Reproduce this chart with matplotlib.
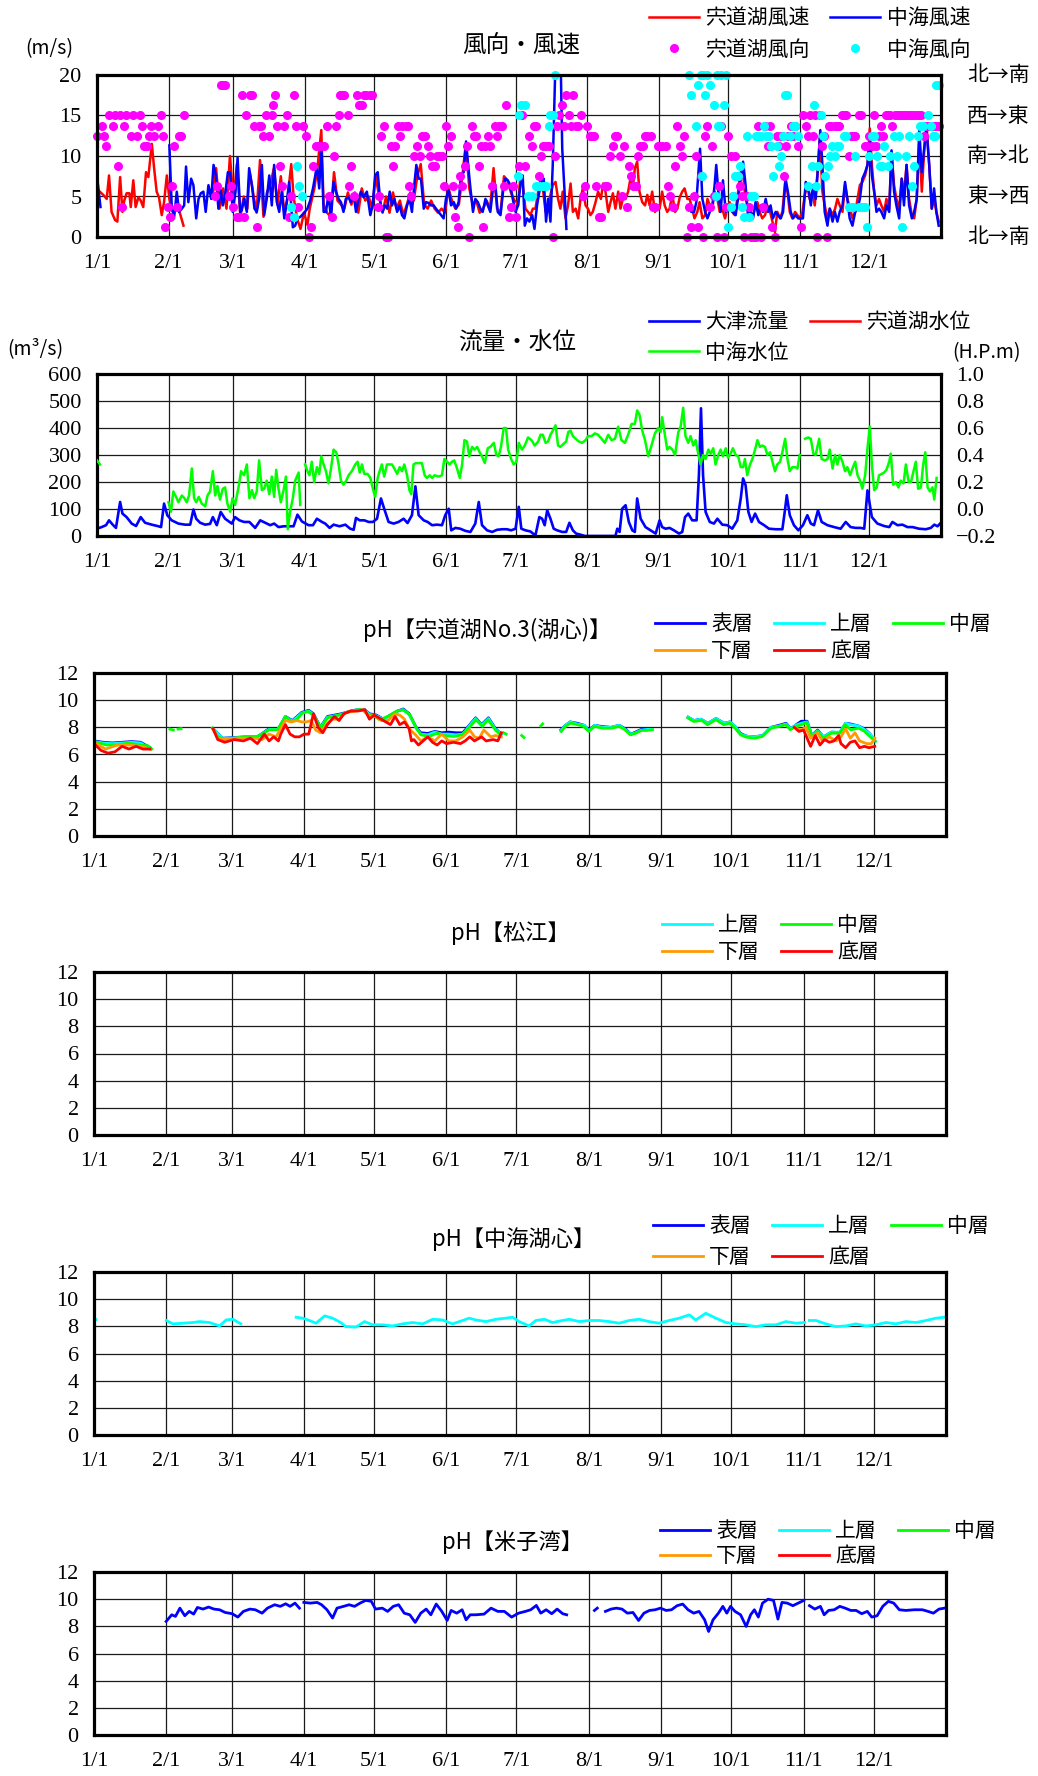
import numpy as np
import matplotlib
matplotlib.use('Agg')
import matplotlib.pyplot as plt

plt.rcParams['font.family'] = ['Noto Sans CJK JP', 'DejaVu Sans']

nan = np.nan
W, H = 1038, 1776

month_days = [0, 31, 59, 90, 120, 151, 181, 212, 243, 273, 304, 334]
month_labels = ['1/1', '2/1', '3/1', '4/1', '5/1', '6/1', '7/1', '8/1', '9/1', '10/1', '11/1', '12/1']

# ---- 風向・風速 (day of year, m/s) ----
lake_wind = [
    (0, 6.0), (1.2, 5.6), (2.7, 5.2), (4.2, 4.7), (5.2, 7.6), (6.3, 3.1), (7.8, 2.1), (8.8, 1.9), (10, 7.4),
    (11, 3.1), (11.8, 4.5), (12.8, 5.4), (14, 5.4), (14.6, 3.7), (15.7, 7.0), (16.7, 3.7), (17.9, 4.9),
    (18.9, 4.5), (20, 3.7), (21.2, 8.0), (22.2, 7.4), (23.7, 11.5), (24.7, 8.5), (25.8, 5.6), (26.8, 4.9),
    (28, 2.7), (29, 4.3), (30.2, 7.6), (31.3, 4.7), (32.3, 3.3), (33.3, 3.1), (34.5, 3.7), (35.9, 2.9),
    (37.4, 1.4), (44, nan),
    (50, 5.0), (51.5, 8.5), (53, 3.5), (54.5, 6.0), (56, 3.5), (57.5, 10.0), (59, 4.5), (60.5, 9.0), (62, 2.5),
    (63.5, 5.0), (65, 3.5), (66, 8.0), (67.5, 5.5), (69, 3.0), (70.5, 9.5), (72, 2.5), (73.5, 5.5), (75, 6.5),
    (76.5, 8.5), (78, 4.0), (79.5, 7.5), (81, 3.0), (82.5, 5.0), (84, 9.0), (85, 5.0), (86.5, 2.3), (88, 1.0),
    (89.5, 3.0), (91, 1.5), (92, 3.5), (94, 6.0), (95.5, 9.0), (97, 13.2), (98, 4.0), (99.5, 3.0), (101, 2.5),
    (102.5, 8.0), (104, 4.5), (105.5, 4.0), (107, 3.5), (108.5, 5.5), (110, 4.0), (111.5, 5.5), (113, 3.0),
    (114.5, 6.0), (116, 4.5), (117.5, 5.0), (119, 3.5), (120.5, 7.5), (122, 5.0), (123.5, 3.0), (125, 5.0),
    (126.5, 3.0), (128, 5.5), (129.5, 3.5), (131, 4.5), (132.5, 2.7), (134, 4.0), (135.5, 5.5), (137, 4.5),
    (138.5, 7.5), (140, 9.0), (141.5, 4.0), (143, 3.5), (144.5, 4.5), (146, 3.5), (147.5, 3.0), (149, 3.5),
    (150.5, 3.0), (152, 6.0), (153.5, 4.5), (155, 3.5), (156.5, 4.0), (158, 7.5), (159.5, 11.5), (161, 6.0),
    (162.5, 4.0), (164, 4.5), (165.5, 3.0), (167, 3.5), (168.5, 4.5), (170, 3.5), (171.5, 8.5), (173, 3.5),
    (174.5, 3.0), (176, 7.5), (177.5, 7.0), (179, 5.5), (180.5, 4.5),
    (181.5, 4.3), (182.1, 3.9), (183.1, 7.6), (184.1, 6.4), (185.3, 3.5), (186.4, 3.1), (187.4, 2.7), (188.5, 3.5),
    (189.6, 3.5), (190.8, 5.6), (191.8, 7.2), (192.8, 6.0), (194, 3.1), (195, 3.9), (196.1, 5.2), (197.1, 6.4),
    (198.3, 6.8), (199.4, 4.7), (200.4, 3.5), (201.4, 5.6), (202.6, 2.3), (203.7, 3.9), (204.8, 6.6), (205.8, 3.1),
    (207, 3.5), (208.1, 2.3), (209.1, 4.7), (210.1, 6.0), (211.3, 3.9), (212.3, 3.5), (213.4, 2.7), (214.4, 3.1),
    (215.6, 4.3), (216.7, 5.6), (217.9, 4.7), (218.9, 6.6), (219.9, 5.6), (221.1, 3.1), (222.1, 4.3), (223.1, 5.4),
    (224.2, 3.5), (225.4, 5.6), (226.4, 3.5), (227.4, 4.7), (228.6, 4.7), (229.7, 5.6), (230.7, 7.2), (231.7, 6.0),
    (232.6, 8.5), (233.6, 9.3), (234.6, 5.6), (235.8, 4.3), (237, 3.9), (238, 5.2), (239, 3.9), (240.1, 5.6),
    (241.3, 3.1), (242.3, 3.9), (243.3, 3.5), (244.4, 5.6), (245.5, 3.9), (246.6, 3.1), (247.6, 3.5), (248.8, 5.2),
    (250, 3.1), (251, 3.5), (252, 4.9), (253.1, 5.6), (254.1, 6.0), (255.3, 4.7), (256.3, 4.7), (257.4, 3.5),
    (258.4, 2.3), (259.6, 3.1), (260.6, 4.3), (261.8, 2.3), (263, 2.7), (264, 4.7), (265, 3.9), (266.1, 3.5),
    (267.1, 5.6), (268.3, 4.7), (269.3, 3.1), (270.4, 3.5), (271.6, 2.3), (272.6, 3.5), (273.6, 4.3), (274.7, 3.1),
    (275.8, 2.7), (276.9, 4.7), (277.9, 7.2), (279.1, 8.9), (280.1, 5.6), (281.2, 3.9), (282.3, 3.1), (283.4, 2.3),
    (284.4, 3.5), (285.6, 4.3), (286.6, 3.1), (287.7, 2.3), (288.9, 2.7), (289.9, 3.9), (291.1, 3.1), (292.1, 1.9),
    (293.2, 0.6), (294.2, 3.1), (295.4, 2.3), (296.4, 3.1), (297.6, 6.8), (298.6, 5.6), (299.6, 3.1), (300.7, 2.3),
    (301.9, 3.1), (302.9, 2.7), (303.9, 2.3), (305.1, 3.1), (306.1, 5.2), (307.2, 6.4), (308.2, 4.7), (309.4, 5.6),
    (310.4, 3.9), (311.5, 7.6), (312.6, 12.2), (313.7, 5.6), (314.7, 3.9), (315.9, 2.3), (316.9, 3.5), (318.1, 2.7),
    (319.2, 3.5), (320.2, 4.7), (321.2, 3.9), (322.4, 3.1), (323.5, 6.4), (324.5, 4.7), (325.7, 3.5), (326.7, 2.3),
    (327.9, 3.1), (328.9, 4.7), (329.9, 6.4), (331, 6.8), (332.2, 7.6), (333.2, 8.9), (334.2, 13.4), (335.1, 8.9),
    (336.1, 5.6), (337.1, 3.9), (338.2, 4.7), (339.2, 3.9), (340.4, 3.1), (341.4, 4.7), (342.6, 3.5), (343.6, 10.5),
    (344.7, 6.4), (345.7, 4.7), (346.9, 3.5), (348, 7.2), (349, 5.2), (350.1, 8.9), (351.2, 4.7), (352.4, 2.7),
    (353.4, 2.3), (354.5, 4.7), (355.6, 11.8), (356.7, 5.6), (357.7, 10.5), (358.7, 14.0), (359.9, 8.9), (361, 3.5),
    (362, 4.7), (363, 3.1), (364, 1.9)]

sea_wind = [
    (0, 7.6), (1.5, 3.7), (10, nan),
    (31.3, 11.3), (32.3, 3.9), (33.3, 2.3), (34.5, 5.6), (35.5, 3.1), (36.7, 3.5), (37.7, 3.9), (38.5, 8.7),
    (39.5, 4.3), (40.7, 7.2), (41.7, 6.4), (42.9, 2.3), (43.9, 4.7), (44.9, 5.4), (46, 5.6), (47, 3.1), (48.2, 6.4),
    (49.4, 4.7), (50.4, 8.9), (51.4, 7.6), (52.5, 3.5), (53.5, 5.8), (54.4, 3.9), (55.4, 5.2), (56.6, 8.0),
    (57.6, 8.0), (58.7, 3.1), (59.9, 5.6), (60.8, 9.8), (61.9, 3.1), (62.6, 3.3), (63.6, 4.7), (64.8, 3.1),
    (65.8, 8.5), (67, 6.4), (68.1, 3.5), (69.1, 3.1), (70.1, 4.7), (71.3, 8.9), (72.3, 2.7), (73.4, 4.7), (74.5, 7.6),
    (75.6, 3.9), (76.6, 8.9), (77.8, 4.3), (78.8, 3.1), (79.9, 5.6), (81, 2.3), (82.1, 4.3), (83.1, 6.8), (84, 3.9),
    (84.7, 1.2), (85.7, 1.4), (86.7, 2.3), (88, 2.5), (89.9, 3.1), (91, 3.5), (92.2, 4.5), (93.4, 6.0), (94.4, 7.6),
    (95.1, 8.9), (96.1, 6.0), (97, 11.3), (98, 3.1), (99, 3.1), (100.1, 5.2), (101.2, 2.3), (102.3, 6.8),
    (103.3, 5.6), (104.5, 4.7), (105.5, 4.3), (106.6, 3.1), (107.6, 4.7), (108.8, 4.9), (109.8, 4.3), (111, 5.2),
    (112, 3.1), (113.1, 4.7), (114.1, 5.6), (115.3, 4.9), (116.7, 5.6), (118.2, 2.7), (119.2, 3.9), (120.3, 7.6),
    (121.4, 8.0), (122.5, 4.3), (123.5, 3.1), (124.5, 3.9), (125.5, 3.5), (126.6, 5.6), (127.6, 3.9), (128.6, 4.7),
    (129.8, 3.1), (130.9, 3.9), (131.9, 2.7), (132.9, 2.3), (134.1, 3.9), (135.2, 4.7), (136.2, 3.1), (137.2, 6.4),
    (138.1, 8.9), (139.1, 7.2), (140.1, 7.2), (141.3, 3.5), (142.3, 4.3), (143.4, 4.2), (144.4, 3.9), (145.6, 3.9),
    (146.6, 3.5), (147.7, 3.1), (148.8, 2.7), (149.9, 2.3), (150.9, 4.7), (152.1, 5.8), (153.1, 3.9), (154.3, 4.3),
    (155.3, 3.5), (156.4, 4.3), (157.4, 7.6), (158.6, 8.0), (159.6, 11.8), (160.5, 8.9), (161.5, 6.0), (162.6, 3.1),
    (163.6, 4.7), (164.7, 4.3), (165.8, 3.5), (166.8, 3.1), (168, 4.7), (169, 3.9), (170.1, 3.1), (171.1, 5.6),
    (172.3, 6.4), (173.3, 3.1), (174.5, 2.7), (175.6, 5.6), (176.6, 7.2), (177.6, 7.0), (178.8, 6.4), (179.8, 4.7),
    (181, 3.1), (182.1, 3.9), (183.1, 6.4), (184.1, 7.6), (185, 1.4), (186, 2.3), (187, 1.9), (188.2, 2.7),
    (189.2, 1.0), (190.3, 3.9), (191.3, 5.6), (192.5, 6.8), (193.2, 7.2), (194.2, 1.9), (195.1, 4.7), (196.1, 1.9),
    (197.1, 8.9), (198.3, 22.0), (200.5, 22.0), (201.2, 10.9), (202.2, 5.6), (203, 1.0), (230, nan),
    (256, 3.9), (257, 3.1), (258.2, 3.1), (259.2, 4.3), (260, 7.6), (260.8, 10.9), (261.8, 4.7), (263, 3.1),
    (264, 2.3), (265, 3.1), (266.1, 3.9), (267.1, 6.4), (267.8, 8.9), (268.7, 5.6), (269.7, 3.1), (270.7, 7.0),
    (271.9, 3.1), (272.9, 3.5), (274, 3.5), (275, 3.1), (276.2, 2.7), (277.2, 4.7), (278.4, 7.2), (279.4, 9.3),
    (280.5, 6.4), (281.5, 2.7), (282.7, 3.1), (283.7, 2.3), (284.8, 4.3), (286, 2.7), (287, 3.9), (288, 3.1),
    (289.2, 4.7), (290.2, 3.1), (291.3, 3.9), (292.3, 2.3), (293.5, 3.1), (294.5, 2.7), (295.7, 2.3), (296.7, 3.1),
    (297.8, 7.2), (299, 5.2), (300, 3.1), (301, 2.3), (302.2, 2.7), (303.2, 2.3), (304.3, 2.3), (305.3, 2.3),
    (306.5, 6.8), (307.5, 6.4), (308.7, 3.9), (309.7, 6.4), (310.8, 4.7), (311.8, 8.5), (312.8, 13.2), (313.7, 8.9),
    (314.7, 3.1), (315.9, 1.4), (316.9, 3.5), (318.1, 1.9), (319.1, 3.1), (320.2, 1.9), (321.2, 3.1), (322.4, 3.9),
    (323.5, 6.8), (324.5, 4.7), (325.5, 2.3), (326.7, 1.4), (327.9, 3.1), (328.9, 3.5), (329.9, 4.7), (331, 7.2),
    (332.2, 8.0), (333.2, 8.9), (334.2, 11.8), (335.1, 7.6), (336.1, 5.6), (337.1, 3.1), (338.2, 3.5), (339.2, 3.1),
    (340.4, 2.3), (341.4, 3.9), (342.6, 3.1), (343.6, 10.7), (344.7, 5.6), (345.7, 3.9), (346.9, 2.3), (348, 7.2),
    (349, 3.9), (350.1, 8.9), (351.2, 3.9), (352.4, 2.3), (353.4, 3.1), (354.5, 4.7), (355.6, 13.2), (356.7, 8.0),
    (357.7, 10.9), (358.7, 13.4), (359.9, 8.9), (361, 3.5), (362, 6.0), (363, 3.1), (364, 1.4)]

# wind direction, 16-point compass index (0 = 北→南 ... 16 = 北→南)
lake_dir = [
    (0, 10), (2, 11), (3, 10), (4, 9), (5, 12), (7, 11), (8, 12), (9, 7), (10, 12), (11, 3), (11.5, 11), (12.5, 12),
    (14.5, 10), (15.5, 12), (17.5, 10), (18.5, 12), (19.5, 11), (20.5, 9), (21.5, 9), (22.5, 10), (23.5, 11),
    (24.5, 10), (26.5, 11), (27.5, 12), (28.5, 10), (29.5, 1), (30.5, 3), (31.5, 2), (32.5, 5), (33.5, 9), (34.5, 3),
    (35.5, 10), (36.5, 10), (37.5, 12), (51, 4), (52, 5), (53.5, 15), (54.5, 15), (55.5, 15), (57, 4), (58, 5),
    (59, 3), (60.5, 2), (61.5, 2), (62.5, 14), (63.5, 2), (64.5, 12), (66, 14), (67, 14), (68, 11), (69, 1), (70, 11),
    (71, 11), (72, 10), (73, 12), (74.5, 10), (75.5, 12), (76, 13), (77, 14), (78, 11), (79, 7), (80, 5), (81, 11),
    (82, 12), (83, 2), (84, 4), (85, 14), (86, 11), (87, 3), (89, 11), (90.5, 10), (91.5, 0), (92.5, 1), (93.5, 7),
    (94.5, 9), (95.5, 9), (96.5, 9), (98, 9), (99.5, 11), (100.5, 4), (101.5, 2), (102.5, 8), (103.5, 11),
    (104.5, 12), (105, 14), (106, 14), (107, 14), (108.5, 12), (109, 5), (110, 7), (111, 4), (112.5, 14), (113.5, 13),
    (114.5, 13), (115.5, 14), (116.5, 14), (118, 14), (119, 14), (121.5, 3), (122, 4), (123, 10), (124, 11), (125, 0),
    (126, 0), (127, 9), (128, 7), (129, 9), (130, 11), (131, 10), (132, 11), (133.5, 11), (134.5, 11), (135, 5),
    (136, 4), (137, 8), (138.5, 9), (139.5, 8), (140.5, 10), (142, 10), (143, 9), (144, 8), (145, 7), (146, 7),
    (147, 8), (148, 8), (149, 8), (150, 5), (151, 11), (152, 9), (153, 10), (154, 5), (155, 2), (156, 1), (157, 6),
    (158, 5), (159, 7), (160, 9), (161, 0), (162, 11), (163, 10), (164, 10), (165, 7), (166, 9), (167, 1), (168, 9),
    (169, 10), (170, 9), (171, 5), (172, 11), (173, 10), (174, 11), (175, 11), (176, 5), (177, 13), (178, 2),
    (179, 3), (180, 5), (181, 2), (182.5, 7), (184, 12), (185, 7), (187, 10), (188, 9), (189, 11), (190, 11),
    (191, 6), (192, 8), (193, 9), (194, 9), (195.5, 9), (197, 0), (198, 8), (199, 11), (200, 12), (201, 13),
    (202, 11), (203, 14), (204, 12), (205, 11), (206, 14), (207, 11), (208, 11), (209.5, 12), (210, 4), (211, 5),
    (212, 11), (213, 10), (214, 10), (215, 10), (216, 5), (217, 2), (218, 2), (219.5, 5), (220.5, 5), (222, 8),
    (223, 9), (224, 10), (225, 10), (226, 8), (227, 4), (228, 9), (229, 3), (230, 7), (231, 6), (232, 5), (233, 5),
    (234, 8), (235, 9), (236, 9), (237, 10), (238, 10), (239.5, 10), (240.5, 3), (241.5, 3), (242.5, 9), (243.5, 9),
    (244.5, 9), (246, 9), (247, 5), (248, 4), (249, 3), (250, 7), (251, 11), (252, 9), (253, 8), (254, 10), (255, 0),
    (256, 3), (257, 1), (258, 4), (259, 8), (260, 1), (261, 6), (262, 0), (263, 10), (264, 11), (265, 3), (266, 9),
    (267, 4), (268, 0), (269, 5), (270, 11), (271, 0), (272, 3), (273, 10), (274, 8), (275, 4), (276, 8), (277, 6),
    (278, 5), (279, 4), (280, 0), (281, 4), (282, 3), (283, 0), (284, 0), (285, 0), (286, 11), (287, 0), (288, 3),
    (289, 11), (290, 9), (291, 11), (292, 1), (293, 0), (294, 10), (295, 9), (296, 10), (297, 6), (298, 9),
    (299, 10), (300, 11), (301, 10), (302, 11), (303, 9), (304.5, 1), (305.5, 12), (306.5, 11), (307.5, 10),
    (308.5, 12), (309.5, 10), (310.5, 12), (311.5, 0), (312.5, 12), (313.5, 9), (314.5, 10), (315.5, 0),
    (316.5, 11), (317.5, 11), (319, 11), (320, 11), (321, 11), (322, 12), (323, 12), (324, 12), (325, 8), (326, 10),
    (327, 10), (328, 10), (329.5, 12), (330.5, 12), (332, 9), (333, 9), (334, 10), (335, 9), (336, 12), (337, 9),
    (338, 10), (339, 11), (340, 10), (341, 12), (342, 12), (343, 12), (344, 11), (345, 12), (346, 12), (347, 12),
    (348, 12), (349, 12), (350, 12), (351, 12), (352, 12), (353, 12), (354, 12), (355.5, 12), (356.5, 12),
    (357.5, 10), (358.5, 11), (360, 11), (361, 11), (362, 11), (363, 11), (364, 11)]

sea_dir = [
    (84, 3), (85, 2), (86.5, 7), (87.5, 5), (88.5, 4), (182, 6), (182.5, 12), (183.5, 13), (185, 13), (186.5, 4),
    (188, 4), (190, 5), (191, 5), (193, 5), (194, 5), (195.5, 11), (196, 12), (197, 12), (198, 16), (256, 16),
    (257, 14), (259, 11), (260, 15), (261, 16), (261.5, 6), (262, 16), (263, 14), (264, 16), (265, 15), (267, 13),
    (267.5, 4), (268, 16), (268.5, 11), (269.5, 11), (270, 16), (271, 13), (272, 16), (273, 1), (274, 3), (275, 4),
    (276, 6), (277, 6), (278, 7), (279, 3), (280, 2), (281, 10), (282, 2), (283, 4), (284, 4), (285, 10), (286, 10),
    (287, 10), (288.5, 11), (289.5, 10), (290.5, 10), (291.5, 9), (292.5, 6), (294, 9), (295, 7), (296, 8),
    (296.5, 10), (297.5, 14), (298.5, 14), (299.5, 10), (301, 11), (302, 11), (303, 10), (307.5, 5), (309, 7),
    (310, 13), (311, 5), (312, 7), (313, 12), (314, 10), (315, 6), (316, 7), (317, 8), (318, 9), (319, 8), (320, 9),
    (321, 9), (323, 10), (324, 10), (325, 3), (326, 3), (327, 3), (328, 8), (329.5, 3), (331, 3), (332, 3), (333, 1),
    (334, 8), (335, 10), (336, 10), (337.5, 8), (338.5, 7), (339.5, 7), (340.5, 9), (342, 7), (343, 8),
    (344.5, 10), (346, 8), (347, 10), (348, 1), (350, 8), (351, 10), (352.5, 5), (353.5, 7), (355, 10), (356, 11),
    (357, 11), (359.5, 12), (360.5, 11), (361.5, 10), (362.5, 10), (363, 15), (364, 15)]

dir_labels = ['北→南', '東→西', '南→北', '西→東', '北→南']

# ---- 流量・水位 ----
otsu_flow = [
    (0, 27), (2, 33), (3.9, 40), (5.2, 58), (6.8, 42), (8.2, 30), (10, 126), (11, 83), (12.8, 70), (15, 46),
    (16.9, 37), (18.9, 70), (20.8, 49), (23.7, 42), (26.6, 36), (27.7, 33), (29, 120), (30.4, 77), (32.3, 58),
    (35.2, 46), (38.1, 42), (40.3, 42), (41.7, 98), (42.9, 64), (44.6, 49), (46.8, 42), (48.9, 45), (50.1, 70),
    (51.8, 40), (53.5, 89), (55.4, 64), (57.3, 52), (58.3, 46), (59.7, 70), (61.6, 58), (63.6, 52), (65.9, 52),
    (68.4, 30), (70.6, 58), (72.7, 49), (74.9, 40), (76.6, 46), (78.5, 33), (80.7, 36), (83.3, 36), (85, 36),
    (86.7, 79), (88.6, 54), (91.5, 40), (93.4, 40), (95.1, 64), (97.3, 52), (98.7, 46), (100.6, 30), (102.3, 42),
    (104.9, 36), (107.4, 42), (109.5, 27), (111, 23), (112, 67), (113.6, 58), (115.6, 58), (117.5, 52), (119.3, 52),
    (121.1, 64), (122.8, 139), (124.2, 101), (126.1, 52), (128.3, 46), (130.4, 52), (132.6, 64), (134.3, 48),
    (136.2, 77), (137.7, 184), (139.1, 77), (141.3, 58), (143, 52), (144.9, 40), (147, 42), (149.2, 40), (150.6, 77),
    (152.1, 101), (153.2, 21), (155, 30), (157.1, 27), (159.3, 19), (161.5, 15), (163.6, 46), (165.1, 126),
    (166.5, 40), (168.7, 21), (170.9, 15), (173, 23), (175.2, 25), (177.3, 25), (179.1, 21), (181, 27),
    (182.4, 108), (183.5, 27), (185.3, 21), (187.4, 17), (189.6, 2), (191.3, 70), (192.5, 64), (193.6, 40),
    (194.7, 95), (196.1, 64), (197.5, 27), (199, 21), (201.2, 15), (202.9, 15), (204.3, 49), (205.8, 21), (207.2, 9),
    (209.1, 5), (211, 0), (217, 0), (224.2, 0), (225, 27), (226, 15), (227.1, 101), (228.6, 114), (230, 52),
    (231.5, 21), (232.6, 15), (233.6, 139), (235.1, 64), (237.2, 33), (239.4, 21), (241.6, 9), (243.3, 58),
    (244.4, 33), (245.9, 27), (247.6, 30), (249.5, 21), (251.7, 9), (253.1, 15), (254.3, 70), (255.7, 83),
    (257.4, 58), (259.3, 58), (260.3, 225), (261.2, 473), (262.1, 225), (263.2, 89), (265, 52), (266.8, 46),
    (268.3, 64), (270.4, 42), (272.6, 40), (274.7, 27), (276.9, 58), (278.4, 139), (279.4, 213), (280.5, 188),
    (281.7, 89), (283.1, 52), (284.6, 83), (286.3, 52), (288.5, 40), (290.6, 27), (293.5, 25), (296.4, 25),
    (297.6, 101), (298.3, 151), (299.6, 77), (301.4, 40), (303.3, 21), (305.3, 40), (307.2, 77), (308.7, 46),
    (310.1, 40), (311.8, 95), (313.4, 52), (315.9, 40), (318.8, 33), (321.6, 27), (323.8, 52), (325.9, 33),
    (328.1, 30), (330.3, 30), (331.8, 27), (333.2, 169), (335.1, 70), (337.5, 46), (340.4, 37), (342.6, 33),
    (344, 52), (346.2, 40), (348.3, 42), (350.5, 33), (352.7, 33), (355.5, 27), (358.4, 25), (360.6, 30),
    (362.1, 42), (363.5, 36), (364.5, 45)]

nakaumi_level = [
    (0, 0.36), (1.3, 0.33), (10, nan),
    (30.9, 0.05), (32, -0.02), (33, 0.13), (34.2, 0.09), (35.2, 0.05), (36.7, 0.10), (37.8, 0.08), (38.8, 0.05),
    (39.8, 0.10), (41, 0.30), (42, 0.08), (42.9, 0.05), (44, 0.09), (45.3, 0.04), (46.8, 0.02), (47.8, 0.10),
    (48.9, 0.13), (50.1, 0.28), (51.1, 0.10), (52.1, 0.17), (53.2, 0.07), (54.4, 0.15), (55.4, 0.16), (56.4, 0.04),
    (57.6, -0.02), (58.6, 0.08), (59.7, 0.03), (61.2, 0.16), (62.3, 0.28), (63.6, 0.25), (64.8, 0.33), (65.9, 0.08),
    (67, 0.14), (68, 0.08), (69.1, 0.13), (70.1, 0.36), (71.3, 0.14), (72.3, 0.15), (73.4, 0.21), (74.5, 0.11),
    (75.6, 0.24), (76.6, 0.09), (77.5, 0.29), (78.5, 0.15), (79.5, 0.05), (80.7, 0.14), (81.7, 0.24), (82.5, -0.15),
    (83.5, -0.02), (84.7, 0.08), (85.7, 0.21), (87.2, 0.27), (87.9, 0.03), (88.9, nan),
    (90, 0.33), (91, 0.28), (91.9, 0.25), (92.9, 0.35), (93.9, 0.20), (95.1, 0.31), (96.1, 0.26), (97, 0.39),
    (98, 0.33), (99, 0.28), (100.1, 0.19), (101.2, 0.30), (102.3, 0.44), (103.5, 0.42), (104.5, 0.33), (105.5, 0.21),
    (106.6, 0.18), (107.8, 0.21), (108.8, 0.25), (110.2, 0.28), (111.7, 0.33), (112.7, 0.35), (113.6, 0.27),
    (114.6, 0.33), (115.6, 0.26), (117, 0.26), (118.2, 0.23), (119.3, 0.15), (120.3, 0.09), (121.4, 0.23),
    (122.2, 0.28), (123.2, 0.33), (124.2, 0.24), (125.4, 0.33), (126.6, 0.33), (127.6, 0.33), (128.6, 0.30),
    (129.8, 0.26), (130.9, 0.31), (131.9, 0.28), (132.9, 0.33), (134.1, 0.25), (135.1, 0.14), (135.9, 0.11),
    (136.9, 0.33), (137.9, 0.34), (139.1, 0.34), (140.5, 0.34), (141.7, 0.25), (142.7, 0.23), (143.9, 0.25),
    (144.9, 0.23), (146, 0.25), (147.8, 0.24), (149.2, 0.25), (150.2, 0.37), (151.4, 0.35), (152.5, 0.33),
    (153.5, 0.35), (154.5, 0.36), (155.7, 0.30), (156.9, 0.23), (157.9, 0.33), (158.9, 0.51), (160, 0.50),
    (161, 0.39), (162.2, 0.46), (163.2, 0.44), (164.4, 0.46), (165.5, 0.42), (166.5, 0.39), (167.7, 0.34),
    (169, 0.45), (170.1, 0.46), (171.6, 0.49), (172.7, 0.40), (173.7, 0.39), (174.7, 0.46), (175.9, 0.60),
    (176.9, 0.60), (177.8, 0.44), (179.1, 0.37), (180.2, 0.33), (181.4, 0.35), (182.4, 0.49), (183.8, 0.44),
    (185, 0.47), (186.4, 0.53), (187.9, 0.51), (189.3, 0.47), (190.8, 0.50), (191.8, 0.55), (192.8, 0.55),
    (194, 0.49), (195.1, 0.50), (196.1, 0.55), (197.1, 0.58), (198.3, 0.62), (199.4, 0.47), (200.4, 0.46),
    (201.6, 0.48), (202.9, 0.50), (203.8, 0.57), (204.8, 0.58), (205.8, 0.54), (207, 0.52), (208.4, 0.50),
    (209.8, 0.49), (211.3, 0.51), (212.4, 0.54), (213.9, 0.54), (215.3, 0.56), (216.7, 0.55), (218.2, 0.52),
    (219.6, 0.49), (221.1, 0.55), (222.5, 0.51), (224, 0.52), (225.4, 0.61), (226.8, 0.51), (228.3, 0.49),
    (229.7, 0.55), (231.2, 0.63), (232.6, 0.63), (233.6, 0.73), (234.6, 0.70), (235.8, 0.58), (237, 0.51),
    (238.4, 0.39), (239.8, 0.47), (241.3, 0.56), (242.7, 0.60), (243.7, 0.57), (244.4, 0.68), (245.6, 0.55),
    (246.6, 0.44), (247.6, 0.46), (248.8, 0.44), (250, 0.40), (251.4, 0.57), (252.4, 0.61), (253.5, 0.75),
    (254.5, 0.54), (255.7, 0.49), (256.7, 0.54), (257.9, 0.47), (258.9, 0.51), (260, 0.41), (261, 0.33),
    (262.1, 0.40), (263.2, 0.37), (264.4, 0.44), (265.4, 0.41), (266.5, 0.45), (267.5, 0.33), (268.7, 0.40),
    (269.7, 0.44), (270.7, 0.39), (271.9, 0.45), (272.9, 0.38), (274, 0.41), (275, 0.45), (276.2, 0.40),
    (277.3, 0.39), (278.4, 0.31), (279.4, 0.31), (280.2, 0.37), (281.2, 0.25), (282.4, 0.33), (283.4, 0.37),
    (284.6, 0.44), (285.6, 0.51), (286.7, 0.46), (287.7, 0.47), (288.9, 0.46), (289.9, 0.40), (291.1, 0.42),
    (292.1, 0.35), (293.2, 0.28), (294.2, 0.33), (295.4, 0.35), (296.4, 0.42), (297.6, 0.52), (298.6, 0.37),
    (299.6, 0.28), (300.7, 0.31), (301.9, 0.31), (302.9, 0.30), (303.9, 0.40), (305, nan),
    (306.2, 0.52), (307.6, 0.53), (308.7, 0.52), (309.8, 0.41), (310.8, 0.40), (312.3, 0.52), (313.4, 0.37),
    (314.9, 0.36), (315.9, 0.37), (316.9, 0.44), (318.1, 0.30), (319.2, 0.40), (320.2, 0.33), (321.2, 0.40),
    (322.4, 0.35), (323.5, 0.28), (324.5, 0.31), (325.7, 0.25), (326.7, 0.30), (327.9, 0.35), (328.9, 0.25),
    (330, 0.21), (331, 0.15), (332.2, 0.25), (333.2, 0.45), (334.2, 0.61), (335.1, 0.33), (336.1, 0.14),
    (337.2, 0.16), (338.2, 0.25), (339.4, 0.26), (340.4, 0.27), (341.4, 0.29), (342.6, 0.35), (343.3, 0.41),
    (344.3, 0.18), (345.5, 0.20), (346.6, 0.16), (347.6, 0.21), (348.8, 0.19), (349.8, 0.33), (351, 0.20),
    (352, 0.20), (353.1, 0.28), (354.1, 0.35), (355.1, 0.15), (356.3, 0.16), (357.3, 0.33), (358.2, 0.42),
    (359.2, 0.16), (360.2, 0.13), (361.3, 0.16), (362.1, 0.07), (363.1, 0.23)]

# ---- pH 宍道湖No.3(湖心) ----
s3_surface = [
    (0, 7.0), (4, 6.9), (8, 6.85), (12, 6.9), (16, 6.95), (20, 6.9), (24, 6.5), (40, nan),
    (51, 7.9), (55, 7.2), (60, 7.25), (65, 7.3), (70, 7.3), (75, 7.9), (79, 7.9), (82, 8.8), (85, 8.5), (89, 9.1),
    (92, 9.25), (94, 9.0), (97, 8.0), (100, 8.8), (103, 8.9), (106, 9.0), (110, 9.2), (113, 9.3), (116, 9.3),
    (118, 9.0), (121, 8.9), (124, 8.6), (127, 8.9), (130, 9.2), (132.5, 9.35), (135, 9.0), (138, 8.0), (140, 7.6),
    (143, 7.55), (146, 7.7), (149, 7.6), (152, 7.65), (155, 7.6), (158, 7.6), (161, 8.2), (163.5, 8.7), (166, 8.2),
    (169, 8.7), (172, 7.9), (174.5, 7.5), (185, nan),
    (200, 7.8), (202, 8.15), (204, 8.4), (207, 8.3), (210, 8.15), (212, 7.8), (214.5, 8.15), (218, 8.05),
    (221.5, 8.0), (225, 8.15), (227.5, 7.9), (230, 7.5), (232, 7.65), (234.5, 7.85), (237, 7.85), (239, 7.9),
    (245, nan),
    (254.5, 8.75), (257, 8.5), (260, 8.6), (263, 8.3), (266.5, 8.65), (270, 8.3), (272.5, 8.4), (275, 8.0),
    (277, 7.55), (279.5, 7.35), (283, 7.3), (286.5, 7.4), (290, 8.0), (293.5, 8.15), (296.5, 8.3), (298.5, 7.9),
    (300.5, 8.15), (303, 8.45), (305.5, 8.45), (307.5, 7.4), (310, 7.8), (312.5, 7.3), (316, 7.65), (319.5, 7.6),
    (322, 8.3), (324, 8.25), (327.5, 8.1), (330, 7.9), (332.5, 7.5), (334.5, 7.0)]

s3_upper = [
    (0, 6.95), (4, 6.85), (8, 6.8), (12, 6.85), (16, 6.9), (20, 6.85), (24, 6.45), (40, nan),
    (51, 7.9), (55, 7.2), (60, 7.22), (65, 7.3), (70, 7.3), (75, 7.85), (79, 7.85), (82, 8.8), (85, 8.45),
    (89, 9.05), (92, 9.2), (94, 8.95), (97, 7.95), (100, 8.75), (103, 8.85), (106, 8.95), (110, 9.2), (113, 9.3),
    (116, 9.3), (118, 8.95), (121, 8.85), (124, 8.6), (127, 8.85), (130, 9.2), (132.5, 9.3), (135, 8.95),
    (138, 7.95), (140, 7.5), (143, 7.45), (146, 7.65), (149, 7.5), (152, 7.5), (155, 7.45), (158, 7.5), (161, 8.15),
    (163.5, 8.65), (166, 8.15), (169, 8.65), (172, 7.85), (174.5, 7.5), (185, nan),
    (200, 7.75), (202, 8.15), (204, 8.4), (207, 8.25), (210, 8.15), (212, 7.75), (214.5, 8.15), (218, 8.0),
    (221.5, 8.0), (225, 8.15), (227.5, 7.85), (230, 7.5), (232, 7.6), (234.5, 7.8), (237, 7.85), (239, 7.85),
    (245, nan),
    (254.5, 8.75), (257, 8.5), (260, 8.6), (263, 8.3), (266.5, 8.65), (270, 8.3), (272.5, 8.4), (275, 8.0),
    (277, 7.5), (279.5, 7.35), (283, 7.3), (286.5, 7.4), (290, 8.0), (293.5, 8.1), (296.5, 8.25), (298.5, 7.9),
    (300.5, 8.15), (303, 8.3), (305.5, 8.4), (307.5, 7.4), (310, 7.75), (312.5, 7.3), (316, 7.65), (319.5, 7.65),
    (322, 8.3), (324, 8.2), (327.5, 8.1), (330, 7.85), (332.5, 7.5), (334.5, 7.05)]

s3_middle = [
    (0, 6.96), (5.4, 6.7), (10.1, 6.7), (14.8, 6.84), (19.5, 6.7), (23.1, 6.64), (24.7, 6.4), (28, nan),
    (32.5, 7.87), (34, 7.8), (35, nan), (36, 7.87), (37.3, 7.9), (44, nan),
    (50.7, 7.94), (53.1, 7.28), (56.2, 7.13), (60.2, 7.2), (64.4, 7.28), (69.1, 7.28), (71.5, 7.45), (75, 7.82),
    (78.6, 7.82), (82.1, 8.8), (84.5, 8.43), (86.8, 8.56), (89.2, 9.05), (91.5, 9.17), (93.9, 8.92), (97.4, 7.94),
    (99.8, 8.68), (102.2, 8.8), (105.7, 8.92), (109.3, 9.17), (112.8, 9.29), (115.2, 9.29), (117.5, 8.92),
    (119.9, 8.85), (122.3, 8.56), (125.8, 8.8), (129.4, 9.17), (132.4, 9.29), (135.3, 8.92), (138.1, 7.94),
    (140, 7.45), (143.5, 7.33), (147, 7.57), (150.6, 7.38), (154.2, 7.33), (157.7, 7.45), (161.2, 8.07),
    (163.6, 8.56), (166.4, 8.07), (168.8, 8.56), (171.9, 7.82), (174.2, 7.45), (175, nan), (175.4, 7.6),
    (176.6, 7.5), (177, nan), (183.2, 7.4), (184.2, 7.25), (185, nan), (191.4, 8.1), (192.2, 8.25), (193, nan),
    (200.2, 7.7), (201.9, 8.07), (204.2, 8.31), (207.3, 8.19), (209.7, 8.07), (212, 7.7), (214.4, 8.07),
    (217.9, 7.94), (221.5, 7.94), (225, 8.07), (227.4, 7.82), (229.8, 7.45), (232.1, 7.57), (234.5, 7.77),
    (236.8, 7.77), (239.2, 7.82), (245, nan),
    (254.5, 8.68), (256.9, 8.43), (260.4, 8.51), (262.8, 8.19), (266.4, 8.56), (269.9, 8.19), (272.3, 8.31),
    (274.6, 7.94), (277, 7.45), (279.4, 7.28), (282.9, 7.2), (286.4, 7.33), (290, 7.94), (293.5, 8.07),
    (296.4, 8.19), (298.3, 7.82), (300.6, 8.07), (303, 8.19), (305.3, 8.36), (307.7, 7.33), (310, 7.7),
    (312.4, 7.2), (315.9, 7.57), (319.5, 7.57), (321.8, 8.19), (324.2, 7.82), (327.7, 7.94), (330.1, 7.7),
    (332.4, 7.33), (334.8, 6.96)]

s3_lower = [
    (0, 6.9), (5, 6.4), (10, 6.7), (15, 6.7), (20, 6.6), (24, 6.4), (40, nan),
    (51, 7.9), (53, 7.2), (56, 7.1), (60, 7.2), (64, 7.2), (69, 7.2), (72, 7.1), (75, 7.5), (78, 7.3), (80, 7.9),
    (82, 8.5), (84.5, 8.4), (87, 8.5), (89, 8.4), (91, 8.4), (93, 8.5), (95, 7.8), (97, 7.6), (100, 8.3), (102, 8.6),
    (105, 8.6), (108, 9.1), (112, 9.2), (115, 9.3), (118, 8.8), (120, 8.9), (123, 8.5), (126, 8.5), (129, 9.0),
    (131, 8.9), (133, 8.6), (135, 7.9), (138, 7.4), (140, 7.0), (143, 7.3), (146, 7.0), (149, 7.5), (152, 7.0),
    (155, 7.0), (158, 7.3), (161, 7.8), (163, 7.3), (165, 7.2), (167, 7.8), (170, 7.3), (172, 7.4), (174.5, 7.3),
    (200, nan),
    (300, 8.0), (303, 7.8), (305, 8.0), (307, 7.2), (310, 7.6), (312, 7.0), (315, 7.3), (318, 7.0), (320, 7.3),
    (322, 7.9), (324, 7.2), (326, 7.6), (328, 7.0), (331, 6.8), (333, 6.8), (334.5, 7.2)]

s3_bottom = [
    (0, 6.8), (3, 6.3), (6, 6.1), (9, 6.2), (12, 6.6), (15, 6.4), (18, 6.6), (21, 6.4), (24, 6.4), (40, nan),
    (51, 7.9), (53, 7.1), (56, 6.9), (60, 7.1), (64, 7.0), (67, 7.2), (70, 6.8), (73, 7.5), (75, 7.0), (77, 7.3),
    (79, 7.0), (80, 7.5), (82, 8.2), (84, 7.5), (86, 7.3), (88, 7.3), (90, 7.5), (92, 7.5), (94, 9.0), (96, 8.0),
    (98, 7.6), (100, 8.2), (103, 8.8), (105, 8.5), (107, 9.0), (110, 9.2), (113, 9.2), (116, 9.3), (118, 8.6),
    (120, 8.9), (123, 8.6), (125, 8.4), (127, 8.2), (129, 8.8), (131, 8.2), (133, 8.4), (135, 7.9), (136, 7.0),
    (137, 7.1), (139, 6.7), (141, 7.0), (143, 7.3), (145, 6.9), (147, 6.7), (149, 7.0), (151, 6.8), (154, 6.9),
    (157, 6.8), (159, 7.0), (161, 7.3), (163, 7.0), (166, 7.3), (168, 7.0), (171, 7.1), (173, 7.0), (174.5, 7.6),
    (200, nan),
    (300, 8.0), (302, 7.7), (304, 7.8), (306, 7.0), (307, 6.6), (309, 7.4), (311, 6.7), (313, 7.1), (315, 6.9),
    (317, 7.0), (319, 7.4), (320, 6.8), (322, 6.5), (324, 6.9), (326, 7.0), (328, 6.5), (330, 6.6), (332, 6.5),
    (334.5, 6.6)]

# ---- pH 中海湖心 (上層) ----
nc_upper = [
    (0, 8.52), (0.8, 8.5), (10, nan),
    (31, 8.43), (33.8, 8.18), (38.1, 8.23), (42.4, 8.28), (45.2, 8.35), (49.5, 8.28), (53.8, 8.03), (56.6, 8.47),
    (59.5, 8.52), (62.9, 8.18), (75, nan),
    (86.6, 8.67), (89.4, 8.6), (92.3, 8.43), (95.1, 8.23), (98.8, 8.77), (102.2, 8.6), (105.7, 8.28), (107.9, 7.98),
    (112.2, 7.94), (115.9, 8.35), (119.3, 8.11), (123.6, 8.11), (127.9, 8.03), (132.2, 8.18), (136.5, 8.28),
    (140.8, 8.18), (145.1, 8.52), (149.3, 8.47), (153.6, 8.18), (157.9, 8.43), (160.7, 8.6), (163.6, 8.47),
    (167.9, 8.35), (172.2, 8.52), (176.4, 8.6), (179.3, 8.67), (182.1, 8.35), (186.4, 8.03), (189.3, 8.43),
    (193, 8.52), (196.4, 8.28), (200.7, 8.43), (203.6, 8.52), (207.9, 8.35), (212.1, 8.43), (216.4, 8.43),
    (220.7, 8.35), (225, 8.23), (229.3, 8.43), (233.5, 8.52), (237.8, 8.35), (242.1, 8.23), (246.4, 8.43),
    (250.7, 8.6), (255, 8.84), (257.8, 8.47), (262.1, 8.96), (266.4, 8.6), (270.7, 8.28), (275, 8.18), (279.3, 8.11),
    (283.5, 7.98), (287.8, 8.11), (292.1, 8.11), (296.4, 8.35), (300.7, 8.23), (304.5, 8.28), (305.5, nan),
    (306.5, 8.43), (309.3, 8.43), (313.5, 8.18), (317.8, 7.98), (322.1, 8.03), (326.4, 8.18), (330.7, 8.03),
    (335, 8.11), (339.2, 8.28), (343.5, 8.18), (347.8, 8.35), (352.1, 8.28), (356.4, 8.43), (360.7, 8.6),
    (364.4, 8.67)]

# ---- pH 米子湾 (表層) ----
yb_surface = [
    (30.9, 8.36), (33.3, 8.85), (34.9, 8.73), (36.8, 9.34), (38.9, 8.78), (40.8, 9.1), (42.7, 8.9), (44.3, 9.39),
    (46.7, 9.27), (49.1, 9.42), (51.4, 9.27), (53.8, 9.22), (56.2, 9.02), (59.2, 8.93), (61.6, 8.68), (64, 9.1),
    (66.8, 9.27), (69.1, 9.22), (72, 8.97), (74.3, 9.34), (77.4, 9.59), (79.8, 9.47), (82.1, 9.66), (84, 9.47),
    (86.1, 9.71), (88, 9.34), (89, nan),
    (89.9, 9.76), (92.7, 9.71), (95.6, 9.76), (97.5, 9.59), (99.8, 9.22), (102.2, 8.61), (104.1, 9.34),
    (106.9, 9.47), (109.3, 9.59), (111.6, 9.47), (114, 9.71), (116.4, 9.91), (118.8, 9.84), (120.6, 9.27),
    (123.5, 9.34), (125.8, 9.1), (128.2, 9.47), (130.5, 9.59), (132.9, 8.97), (135.3, 8.85), (137.6, 8.29),
    (140, 8.97), (142.3, 9.27), (144.3, 8.85), (146.6, 9.64), (149, 9.1), (151.3, 8.43), (153, 9.17),
    (155.4, 8.97), (157.7, 9.22), (159.4, 8.48), (161.2, 8.85), (163.6, 8.85), (167.1, 8.9), (170.1, 9.34),
    (173, 9.1), (175.8, 9.1), (178.9, 8.68), (181.9, 8.97), (184.8, 9.1), (187.1, 9.22), (189.5, 9.54),
    (191.4, 8.97), (193.7, 9.22), (196.1, 8.93), (198.4, 9.27), (200.8, 8.93), (202.5, 8.85), (208, nan),
    (214.4, 9.17), (215.6, 9.34), (217, nan),
    (219.1, 9.1), (221.5, 9.27), (223.8, 9.34), (226.2, 9.27), (228.5, 8.97), (230.9, 9.02), (233.3, 8.43),
    (235.6, 8.97), (238, 9.17), (240.4, 9.22), (242.7, 9.34), (245.1, 9.17), (247.4, 9.22), (249.8, 9.52),
    (252.2, 9.64), (254.5, 9.22), (256.9, 8.97), (259.2, 9.1), (261.6, 8.48), (263.3, 7.62), (265.2, 8.48),
    (267.5, 8.97), (269.4, 9.47), (271.1, 8.97), (272.7, 9.47), (274.6, 9.1), (277, 8.85), (279.4, 7.99),
    (281.3, 8.85), (282.9, 9.22), (284.6, 8.68), (286.4, 9.71), (288.8, 10.0), (291.1, 9.91), (293, 8.53),
    (294.7, 9.76), (297, 9.71), (299.4, 9.52), (301.7, 9.71), (304.1, 9.91), (305.2, nan),
    (306.5, 9.52), (308.8, 9.27), (311.2, 9.47), (312.8, 8.85), (314.7, 9.17), (317.1, 9.22), (319.5, 9.47),
    (321.8, 9.34), (324.2, 9.17), (326.5, 9.17), (328.9, 8.93), (331.3, 9.1), (333.2, 8.68), (335.5, 8.78),
    (337.9, 9.47), (340.3, 9.84), (342.6, 9.71), (345, 9.22), (347.8, 9.17), (351.4, 9.22), (354.9, 9.22),
    (357.3, 9.1), (359.6, 8.97), (362, 9.27), (364.4, 9.34)]

layer_names = ['表層', '上層', '中層', '下層', '底層']
layer_colors = ['#0000ff', '#00ffff', '#00ff00', '#ff9900', '#ff0000']

TICK_FONT = 'Liberation Serif'


def xy(pairs):
    a = np.array(pairs, dtype=float)
    return a[:, 0], a[:, 1]


def box(l, r, t, b):
    return [l / W, 1 - b / H, (r - l) / W, (b - t) / H]


def setup(ax, ylim, yticks):
    ax.set_xlim(0, 365)
    ax.set_ylim(*ylim)
    ax.set_xticks(month_days)
    ax.set_xticklabels(month_labels, fontfamily=TICK_FONT, fontsize=16)
    ax.set_yticks(yticks)
    ax.set_yticklabels([str(v) for v in yticks], fontfamily=TICK_FONT, fontsize=16)
    ax.tick_params(axis='x', length=0, pad=12)
    ax.tick_params(axis='y', length=0, pad=11)
    ax.grid(True, color='#1a1a1a', lw=0.9)
    ax.set_axisbelow(True)
    for s in ax.spines.values():
        s.set_linewidth(2.3)
        s.set_color('black')
        s.set_zorder(5)


def legend(ax, handles, labels, ncol, x_px, y_px, spacing):
    ax.legend(handles, labels, ncol=ncol, loc='upper left',
              bbox_to_anchor=(x_px / W, 1 - y_px / H), bbox_transform=fig.transFigure,
              frameon=False, fontsize=15, handlelength=2.4, handletextpad=0.3,
              columnspacing=1.0, labelspacing=spacing, borderpad=0, borderaxespad=0)


def title(text, x_px, y_px, size=17):
    fig.text(x_px / W, 1 - y_px / H, text, ha='center', va='center', fontsize=size)


fig = plt.figure(figsize=(W / 100, H / 100), dpi=100)

# ---------------- 風向・風速 ----------------
ax1 = fig.add_axes(box(97, 941, 75, 237))
setup(ax1, (0, 20), [0, 5, 10, 15, 20])
d, v = xy(lake_wind)
l_lake, = ax1.plot(d, v, color='#ff0000', lw=1.8)
d, v = xy(sea_wind)
l_sea, = ax1.plot(d, v, color='#0000ff', lw=1.8)
d, v = xy(lake_dir)
m_lake, = ax1.plot(d, v * 1.25, 'o', color='#ff00ff', ms=5.5, ls='none', clip_on=False)
d, v = xy(sea_dir)
m_sea, = ax1.plot(d, v * 1.25, 'o', color='#00ffff', ms=5.5, ls='none', clip_on=False)
for val, lab in zip([0, 5, 10, 15, 20], dir_labels):
    ax1.text(1.031, val, lab, transform=ax1.get_yaxis_transform(), ha='left', va='center', fontsize=15)
legend(ax1, [l_lake, m_lake, l_sea, m_sea], ['宍道湖風速', '宍道湖風向', '中海風速', '中海風向'], 2, 649, 7, 0.46)
title('風向・風速', 521, 46)
fig.text(49 / W, 1 - 49 / H, '(m/s)', ha='center', va='center', fontsize=14)

# ---------------- 流量・水位 ----------------
ax2 = fig.add_axes(box(97, 941, 374, 536))
setup(ax2, (0, 600), [0, 100, 200, 300, 400, 500, 600])
d, v = xy(otsu_flow)
l_flow, = ax2.plot(d, v, color='#0000ff', lw=1.9)
ax2r = ax2.twinx()
ax2r.set_ylim(-0.2, 1.0)
lev_ticks = [-0.2, 0.0, 0.2, 0.4, 0.6, 0.8, 1.0]
ax2r.set_yticks(lev_ticks)
ax2r.set_yticklabels(['\u22120.2', '0.0', '0.2', '0.4', '0.6', '0.8', '1.0'], fontfamily=TICK_FONT, fontsize=16)
ax2r.tick_params(axis='y', length=0, pad=11)
for s in ax2r.spines.values():
    s.set_visible(False)
d, v = xy(nakaumi_level)
l_lev, = ax2r.plot(d, v, color='#00ff00', lw=1.8)
l_shinji, = ax2r.plot([], [], color='#ff0000', lw=1.8)
legend(ax2r, [l_flow, l_lev, l_shinji], ['大津流量', '中海水位', '宍道湖水位'], 2, 649, 311, 0.41)
title('流量・水位', 517, 343)
fig.text(35 / W, 1 - 349 / H, '(m\u00b3/s)', ha='center', va='center', fontsize=14)
fig.text(986 / W, 1 - 353 / H, '(H.P.m)', ha='center', va='center', fontsize=14)

# ---------------- pH panels ----------------
ph_ticks = [0, 2, 4, 6, 8, 10, 12]


def ph_panel(top, series, names_order, title_text, title_x, title_y, leg_x, leg_y, ncol, spacing):
    ax = fig.add_axes(box(94, 946, top, top + 163))
    setup(ax, (0, 12), ph_ticks)
    handles = {}
    for name, color in zip(layer_names, layer_colors):
        pairs = series.get(name)
        if pairs is not None:
            d, v = xy(pairs)
            h, = ax.plot(d, v, color=color, lw=2.0)
        else:
            h, = ax.plot([], [], color=color, lw=2.0)
        handles[name] = h
    legend(ax, [handles[n] for n in names_order], names_order, ncol, leg_x, leg_y, spacing)
    title(title_text, title_x, title_y, size=16)
    return ax


order5 = ['表層', '下層', '上層', '底層', '中層']
ph_panel(673, {'表層': s3_surface, '上層': s3_upper, '中層': s3_middle, '下層': s3_lower, '底層': s3_bottom},
         order5, 'pH【宍道湖No.3(湖心)】', 487, 630, 655, 613, 3, 0.25)
ph_panel(972, {}, ['上層', '下層', '中層', '底層'], 'pH【松江】', 510, 933, 662, 914, 2, 0.25)
ph_panel(1272, {'上層': nc_upper}, order5, 'pH【中海湖心】', 514, 1239, 653, 1215, 3, 0.44)
ph_panel(1572, {'表層': yb_surface}, order5, 'pH【米子湾】', 512, 1542, 660, 1520, 3, 0.15)

fig.savefig('out.png', dpi=100, facecolor='white')
